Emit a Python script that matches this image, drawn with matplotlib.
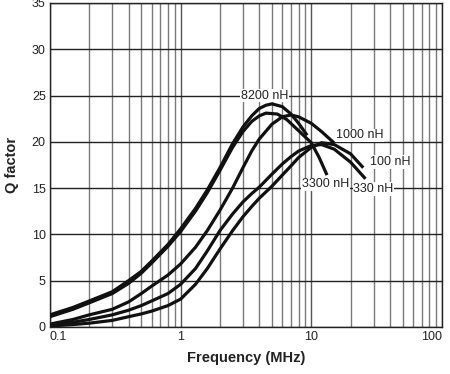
import matplotlib
matplotlib.use("Agg")
import matplotlib.pyplot as plt

plt.rcParams["font.family"] = ["Liberation Sans", "DejaVu Sans"]

# ---- data ----
f_8200 = [0.1, 0.15, 0.2, 0.3, 0.4, 0.5, 0.6, 0.8, 1.0, 1.3, 1.6, 2.0, 2.5, 3.0, 3.5, 4.0, 4.5, 5.0, 6.0, 7.0, 8.0, 9.3]
q_8200 = [1.3, 2.1, 2.8, 3.8, 5.0, 6.0, 7.1, 8.9, 10.6, 12.8, 14.8, 17.2, 19.8, 21.6, 22.8, 23.6, 23.95, 24.1, 23.8, 23.0, 22.0, 20.7]

f_3300 = [0.1, 0.15, 0.2, 0.3, 0.4, 0.5, 0.6, 0.8, 1.0, 1.3, 1.6, 2.0, 2.5, 3.0, 3.5, 4.0, 4.5, 5.5, 6.5, 8.0, 10.0, 11.5, 13.2]
q_3300 = [1.1, 1.9, 2.6, 3.6, 4.7, 5.8, 6.9, 8.7, 10.3, 12.5, 14.5, 16.9, 19.4, 21.1, 22.2, 22.8, 23.1, 23.0, 22.4, 21.2, 19.9, 18.3, 16.4]

f_1000 = [0.1, 0.15, 0.2, 0.3, 0.4, 0.5, 0.6, 0.8, 1.0, 1.3, 1.6, 2.0, 2.5, 3.0, 3.5, 4.0, 5.0, 6.0, 7.0, 8.0, 10.0, 12.0, 14.9]
q_1000 = [0.3, 0.8, 1.3, 1.9, 2.7, 3.6, 4.4, 5.6, 6.8, 8.6, 10.4, 12.6, 15.0, 17.2, 19.0, 20.3, 21.9, 22.7, 22.9, 22.7, 22.0, 21.1, 19.9]

f_330 = [0.1, 0.15, 0.2, 0.3, 0.4, 0.5, 0.6, 0.8, 1.0, 1.3, 1.6, 2.0, 2.5, 3.0, 3.5, 4.0, 5.0, 6.0, 7.0, 8.0, 10.0, 12.0, 15.0, 20.0, 26.0]
q_330 = [0.2, 0.5, 0.8, 1.3, 1.8, 2.3, 2.8, 3.6, 4.6, 6.3, 8.2, 10.4, 12.2, 13.5, 14.4, 15.1, 16.5, 17.6, 18.4, 19.0, 19.6, 19.7, 19.2, 17.8, 16.0]

f_100 = [0.1, 0.15, 0.2, 0.3, 0.4, 0.5, 0.6, 0.8, 1.0, 1.3, 1.6, 2.0, 2.5, 3.0, 3.5, 4.0, 5.0, 6.0, 7.0, 8.0, 10.0, 12.0, 15.0, 20.0, 25.0]
q_100 = [0.1, 0.25, 0.4, 0.7, 1.1, 1.4, 1.7, 2.3, 3.0, 4.6, 6.3, 8.4, 10.4, 11.9, 13.0, 13.9, 15.2, 16.4, 17.4, 18.3, 19.4, 19.9, 19.7, 18.7, 17.2]

curves = [(f_8200, q_8200), (f_3300, q_3300), (f_1000, q_1000), (f_330, q_330), (f_100, q_100)]

labels = ["8200 nH", "1000 nH", "100 nH", "3300 nH", "330 nH"]
label_f = [4.42, 15.5, 28.3, 8.5, 21.0]
label_q = [25.0, 20.7, 17.8, 15.4, 14.9]
label_ha = ["center", "left", "left", "left", "left"]

xticks = [0.1, 1, 10, 100]
xticklabels = ["0.1", "1", "10", "100"]
yticks = [0, 5, 10, 15, 20, 25, 30, 35]

fig = plt.figure(figsize=(4.5, 3.74), dpi=100)
ax = fig.add_axes([0.111, 0.126, 0.871, 0.866])
ax.set_xscale("log")
ax.set_xlim(0.1, 100)
ax.set_ylim(0, 35)

# grid
minor = []
for dec in [0.1, 1, 10]:
    for m in range(2, 10):
        minor.append(dec * m)
ax.set_xticks(minor, minor=True)
ax.tick_params(axis="x", which="minor", length=0, labelbottom=False)
ax.grid(True, which="minor", axis="x", color="#7a7a7a", lw=1.0)
ax.grid(True, which="major", axis="x", color="#555555", lw=1.0)
ax.grid(True, which="major", axis="y", color="#222222", lw=1.0)
ax.set_axisbelow(True)

for f, q in curves:
    ax.plot(f, q, color="#111111", lw=2.3, solid_capstyle="butt",
            solid_joinstyle="round", zorder=3)

for t, fx, qy, ha in zip(labels, label_f, label_q, label_ha):
    ax.text(fx, qy, t, fontsize=9, ha=ha, va="center", color="#222222", zorder=4,
            bbox=dict(facecolor="white", edgecolor="none", pad=0.5))

ax.set_xticks(xticks)
ax.set_xticklabels(xticklabels)
tl = ax.get_xticklabels()
tl[0].set_ha("left")
tl[-1].set_ha("right")
ax.set_yticks(yticks)
ax.tick_params(axis="both", which="major", length=0, labelsize=9, colors="#222222", pad=3)

for s in ax.spines.values():
    s.set_color("#222222")
    s.set_linewidth(1.0)

ax.set_xlabel("Frequency (MHz)", fontsize=10.5, fontweight="bold", color="#222222", labelpad=6)
ax.set_ylabel("Q factor", fontsize=10.5, fontweight="bold", color="#222222", labelpad=9)

fig.savefig("out.png", dpi=100)
